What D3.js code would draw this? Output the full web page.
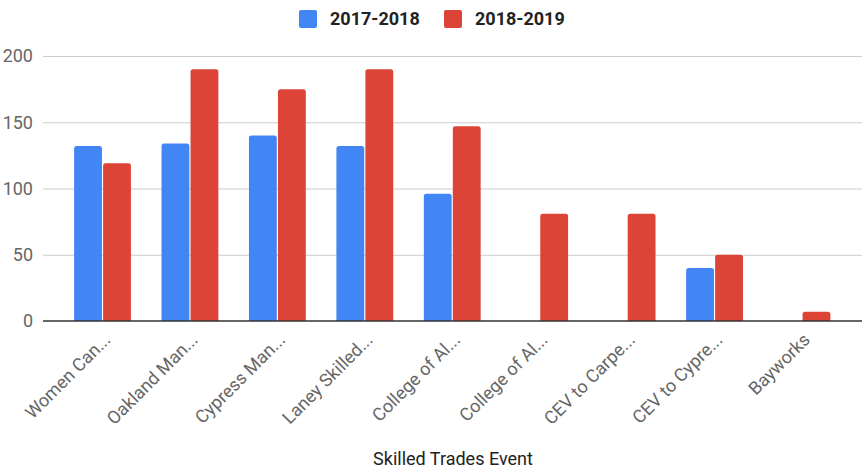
<!DOCTYPE html>
<html>
<head>
<meta charset="utf-8">
<script src="https://cdn.jsdelivr.net/npm/d3@7"></script>
<style>
    body { margin: 0; background: #fff; }
    svg { display: block; font-family: Roboto, "Noto Sans", sans-serif; }
</style>
</head>
<body>
<div id="chart"></div>
<script>
// chart data
const events = ["Women Can...", "Oakland Man...", "Cypress Man...", "Laney Skilled...", "College of Al...",
    "College of Al...", "CEV to Carpe...", "CEV to Cypre...", "Bayworks"];
const seriesNames = ["2017-2018", "2018-2019"];
const values1718 = [132, 134, 140, 132, 96, null, null, 40, null];
const values1819 = [119, 190, 175, 190, 147, 81, 81, 50, 7];
const yTicks = [0, 50, 100, 150, 200];
const xTitle = "Skilled Trades Event";

const colors = ["#4285f4", "#db4437"];

const width = 864, height = 469;
const svg = d3.select("#chart").append("svg")
    .attr("width", width)
    .attr("height", height);

// scales
const xScale = d3.scaleBand()
    .domain(d3.range(events.length))
    .range([58.8, 845.7])
    .paddingInner(0.35)
    .paddingOuter(0.175);

const xSub = d3.scaleBand()
    .domain(seriesNames)
    .range([0, xScale.bandwidth()])
    .paddingInner(0.04);

const yScale = d3.scaleLinear()
    .domain([0, 200])
    .range([321, 56]);

// gridlines + y labels
const grid = svg.append("g");
grid.selectAll("line")
    .data(yTicks.filter(d => d > 0))
    .join("line")
    .attr("x1", 43).attr("x2", 862)
    .attr("y1", d => yScale(d) + 0.5).attr("y2", d => yScale(d) + 0.5)
    .attr("stroke", "#cccccc")
    .attr("stroke-width", 1);

grid.selectAll("text")
    .data(yTicks)
    .join("text")
    .attr("x", 33)
    .attr("y", d => yScale(d))
    .attr("dy", "0.35em")
    .attr("text-anchor", "end")
    .attr("font-size", "18px")
    .attr("fill", "#666")
    .text(d => d);

// bars with rounded tops
function barPath(x, y, w, h, r) {
    r = Math.min(r, h, w / 2);
    return `M${x},${y + h} V${y + r} Q${x},${y} ${x + r},${y} H${x + w - r} Q${x + w},${y} ${x + w},${y + r} V${y + h} Z`;
}

const rows = events.map((e, i) => ({ i, vals: [values1718[i], values1819[i]] }));
const groups = svg.append("g").selectAll("g")
    .data(rows)
    .join("g")
    .attr("transform", d => `translate(${xScale(d.i)},0)`);

groups.selectAll("path")
    .data(d => d.vals.map((v, k) => ({ v, k })).filter(o => o.v != null))
    .join("path")
    .attr("d", o => barPath(xSub(seriesNames[o.k]), yScale(o.v), xSub.bandwidth(), yScale(0) - yScale(o.v), 2.5))
    .attr("fill", o => colors[o.k]);

// baseline
svg.append("line")
    .attr("x1", 43).attr("x2", 862)
    .attr("y1", yScale(0)).attr("y2", yScale(0))
    .attr("stroke", "#333")
    .attr("stroke-width", 1.5);

// x labels, rotated
svg.append("g").selectAll("text")
    .data(events)
    .join("text")
    .attr("transform", (d, i) => `translate(${xScale(i) + xScale.bandwidth() / 2 + 9},341) rotate(-45)`)
    .attr("text-anchor", "end")
    .attr("font-size", "18px")
    .attr("fill", "#666")
    .text(d => d);

// axis title
svg.append("text")
    .attr("x", 453)
    .attr("y", 465)
    .attr("text-anchor", "middle")
    .attr("font-size", "18px")
    .attr("fill", "#222")
    .text(xTitle);

// legend
const legendX = [299, 444];
const legend = svg.append("g").selectAll("g")
    .data(seriesNames)
    .join("g")
    .attr("transform", (d, i) => `translate(${legendX[i]},10)`);

legend.append("rect")
    .attr("width", 18).attr("height", 18)
    .attr("rx", 2)
    .attr("fill", (d, i) => colors[i]);

legend.append("text")
    .attr("x", 31)
    .attr("y", 15)
    .attr("font-size", "18px")
    .attr("font-weight", "bold")
    .attr("fill", "#222")
    .text(d => d);
</script>
</body>
</html>
